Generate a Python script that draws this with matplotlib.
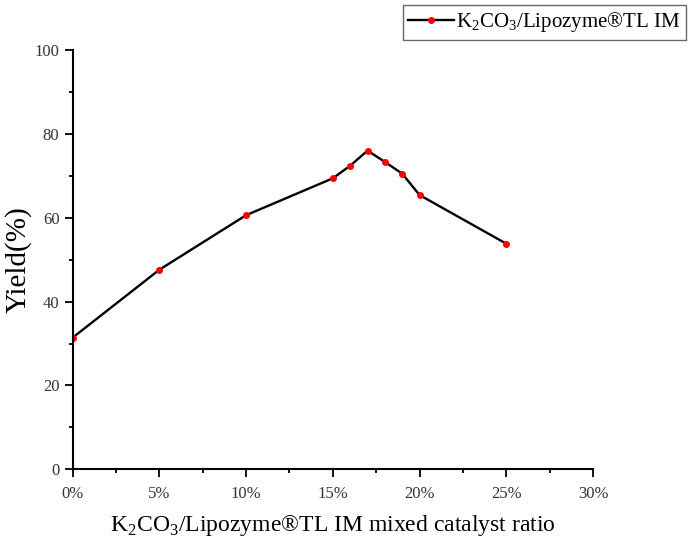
import matplotlib
matplotlib.use("Agg")
import matplotlib.pyplot as plt
from matplotlib.ticker import MultipleLocator

plt.rcParams['font.family'] = ['Liberation Serif', 'DejaVu Serif']
plt.rcParams['mathtext.fontset'] = 'custom'
plt.rcParams['mathtext.rm'] = 'Liberation Serif'

# catalyst ratio (%) and yield (%)
ratio = [0, 5, 10, 15, 16, 17, 18, 19, 20, 25]
yield_pct = [31.4, 47.6, 60.6, 69.4, 72.4, 76.0, 73.3, 70.5, 65.4, 53.8]

x_ticks = [0, 5, 10, 15, 20, 25, 30]
x_tick_labels = ["0%", "5%", "10%", "15%", "20%", "25%", "30%"]
y_ticks = [0, 20, 40, 60, 80, 100]

label = r"K$_\mathrm{2}$CO$_\mathrm{3}$/Lipozyme®TL IM"

fig = plt.figure(figsize=(6.92, 5.39), dpi=100)
ax = fig.add_axes([0.105, 0.1293, 0.752, 0.778])

ax.plot(ratio, yield_pct, color='black', linewidth=1.7, marker='o',
        markersize=4, markerfacecolor='red', markeredgecolor='red',
        label=label)

ax.set_xlim(0, 30)
ax.set_ylim(0, 100)
ax.set_xticks(x_ticks)
ax.set_xticklabels(x_tick_labels)
ax.set_yticks(y_ticks)
ax.xaxis.set_minor_locator(MultipleLocator(2.5))
ax.yaxis.set_minor_locator(MultipleLocator(10))

ax.spines['top'].set_visible(False)
ax.spines['right'].set_visible(False)
ax.spines['left'].set_linewidth(1.5)
ax.spines['bottom'].set_linewidth(1.5)
ax.tick_params(which='major', direction='out', length=6, width=1.3,
               labelsize=12, colors='black', labelcolor='#333333')
ax.tick_params(which='minor', direction='out', length=3, width=1.3)
ax.tick_params(axis='x', pad=6)

ax.set_xlabel("K$_\\mathrm{2}$CO$_\\mathrm{3}$/Lipozyme®TL IM mixed catalyst ratio",
              fontsize=17, labelpad=8)
ax.set_ylabel("Yield(%)", fontsize=21, labelpad=2)

leg = fig.legend(loc='upper right', bbox_to_anchor=(0.997, 0.998),
                 fontsize=15, frameon=True, fancybox=False, borderpad=0.25,
                 handlelength=2.2, handletextpad=0.1, borderaxespad=0.2)
leg.get_frame().set_edgecolor('#444444')
leg.get_frame().set_linewidth(1.0)

fig.savefig("out.png", dpi=100)
